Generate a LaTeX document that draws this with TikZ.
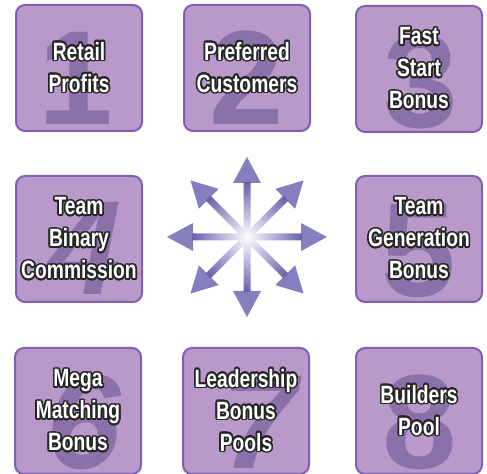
\documentclass[tikz,border=0pt]{standalone}
\usepackage{fontspec}
\usepackage[copies]{contour}
\usetikzlibrary{calc}
\newfontfamily\boxfont{Liberation Sans}[FakeStretch=0.77]
\newfontfamily\numfont{Liberation Sans}
\definecolor{F}{RGB}{184, 153, 202}
\definecolor{L}{RGB}{128, 96, 176}
\definecolor{N}{RGB}{139, 113, 170}
\definecolor{A}{RGB}{132, 128, 192}
\definecolor{S}{RGB}{104, 94, 172}
\contourlength{0.8pt}
\contournumber{24}
\newcommand{\rotulo}[1]{\contour{black!85}{#1}}
\tikzset{
  caja/.style={draw=L, fill=F, line width=1pt, rounded corners=4.5pt,
    minimum size=63pt, inner sep=0pt},
  numero/.style={text=N, anchor=base, inner sep=0pt,
    font=\numfont\bfseries\fontsize{67}{67}\selectfont},
  numeroit/.style={numero, font=\numfont\bfseries\itshape\fontsize{67}{67}\selectfont},
  texto/.style={text=white, align=center, inner sep=0pt,
    font=\boxfont\bfseries\fontsize{12.5}{16}\selectfont}
}

\begin{document}
\begin{tikzpicture}[x=0.5pt, y=-0.5pt]
   	\useasboundingbox (0,0) rectangle (487,474);

	%Cajas
   	\node[caja] (retail) at (79,68) {};
   	\node[caja] (preferred) at (247,68) {};
   	\node[caja] (faststart) at (419,69) {};
   	\node[caja] (binary) at (79,239) {};
   	\node[caja] (generation) at (419,239) {};
   	\node[caja] (matching) at (78,411) {};
   	\node[caja] (leadership) at (246,411) {};
   	\node[caja] (builders) at (419,411) {};

	%Numeros de fondo
   	\node[numero] (n1) at ($(retail.south)+(-3,-7)$) {1};
   	\node[numero] (n2) at ($(preferred.south)+(0,-7)$) {2};
   	\node[numero] (n3) at ($(faststart.south)+(2,-5)$) {3};
   	\node[numeroit] (n4) at ($(binary.south)+(6,-8)$) {4};
   	\node[numero] (n5) at ($(generation.south)+(0,-6)$) {5};
   	\node[numeroit] (n6) at ($(matching.south)+(6,-6)$) {6};
   	\node[numeroit] (n7) at ($(leadership.south)+(14,-6)$) {7};
   	\node[numero] (n8) at ($(builders.south)+(1,-6)$) {8};

	%Textos
   	\node[texto] (retailtxt) at (retail) {\rotulo{Retail}\\\rotulo{Profits}};
   	\node[texto] (preferredtxt) at (preferred) {\rotulo{Preferred}\\\rotulo{Customers}};
   	\node[texto] (faststarttxt) at (faststart) {\rotulo{Fast}\\\rotulo{Start}\\\rotulo{Bonus}};
   	\node[texto] (binarytxt) at (binary) {\rotulo{Team}\\\rotulo{Binary}\\\rotulo{Commission}};
   	\node[texto] (generationtxt) at (generation) {\rotulo{Team}\\\rotulo{Generation}\\\rotulo{Bonus}};
   	\node[texto] (matchingtxt) at (matching) {\rotulo{Mega}\\\rotulo{Matching}\\\rotulo{Bonus}};
   	\node[texto] (leadershiptxt) at (leadership) {\rotulo{Leadership}\\\rotulo{Bonus}\\\rotulo{Pools}};
   	\node[texto] (builderstxt) at (builders) {\rotulo{Builders}\\\rotulo{Pool}};

	%Estrella de flechas en el centro
   	\coordinate (centro) at (247,237);
   	\begin{scope}[shift={(centro)}]
   		%Puntas
   		\foreach \a in {0,45,...,315}
   			\fill[A] (\a:80) -- ($(\a:54)+(\a+90:14)$) -- ($(\a:54)+(\a-90:14)$) -- cycle;
   		%Astiles, blancos en el centro
   		\shade[inner color=white, outer color=S]
   			\foreach \a in {0,45,...,315} {
   				(\a+90:3.5) -- ++(\a:55) -- ++(\a-90:7) -- ++(\a+180:55) -- cycle
   			};
   	\end{scope}
\end{tikzpicture}
\end{document}
